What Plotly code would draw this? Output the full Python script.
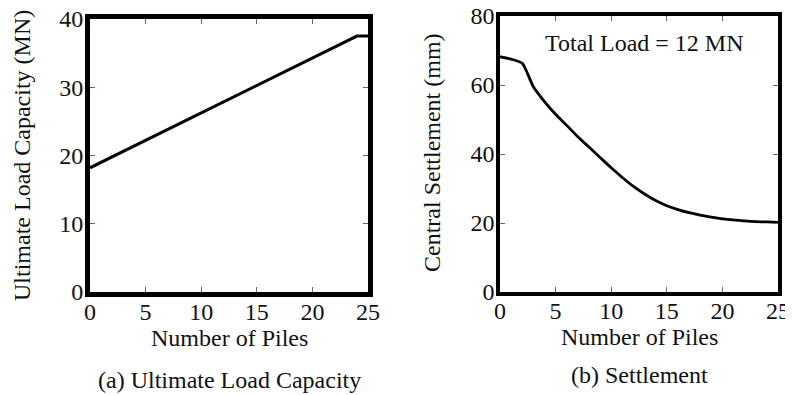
import plotly.graph_objects as go

# Panel (a): ultimate load capacity
piles_a = [0, 24, 25]
capacity_mn = [18.2, 37.5, 37.5]

# Panel (b): central settlement
piles_b = list(range(0, 26))
settlement_mm = [68.2, 67.5, 66.3, 59.5, 55.2, 51.5, 48.3, 45.0, 42.0, 39.0,
                 36.0, 33.2, 30.6, 28.4, 26.5, 25.0, 23.9, 23.0, 22.3, 21.7,
                 21.2, 20.9, 20.6, 20.4, 20.3, 20.2]

x_ticks = [0, 5, 10, 15, 20, 25]
y_ticks_a = [0, 10, 20, 30, 40]
y_ticks_b = [0, 20, 40, 60, 80]

FONT = "Liberation Serif, Times New Roman, serif"
FS = 24
OFF = 8  # page body margin
W, H = 793 - OFF, 395 - OFF

def px(x):
    return (x - OFF) / W

def py(y):
    return 1 - (y - OFF) / H

fig = go.Figure()
fig.add_trace(go.Scatter(x=piles_a, y=capacity_mn, mode="lines",
                         line=dict(color="black", width=3),
                         xaxis="x", yaxis="y", showlegend=False))
fig.add_trace(go.Scatter(x=piles_b, y=settlement_mm, mode="lines",
                         line=dict(color="black", width=2.8, shape="spline", smoothing=0.6),
                         xaxis="x2", yaxis="y2", showlegend=False))

def ax(domain, rng, ticks, lw, anchor, standoff=0):
    return dict(domain=domain, range=rng, tickvals=ticks, ticktext=[str(t) for t in ticks],
                showline=True, linecolor="black", linewidth=lw, mirror="ticks",
                ticks="inside", ticklen=5, tickwidth=1, tickcolor="#666",
                showgrid=False, zeroline=False, anchor=anchor, automargin=False,
                ticklabelstandoff=standoff, ticklabeloverflow="allow",
                tickfont=dict(family=FONT, size=FS, color="#111"))

fig.update_layout(
    width=W, height=H, margin=dict(l=0, r=0, t=0, b=0),
    paper_bgcolor="white", plot_bgcolor="white",
    xaxis=ax([px(90), px(368)], [0, 25], x_ticks, 5, "y", -6),
    yaxis=ax([py(292), py(19)], [0, 40], y_ticks_a, 5, "x", -3),
    xaxis2=ax([px(500), px(778)], [0, 25], x_ticks, 3.5, "y2", -6),
    yaxis2=ax([py(292), py(16)], [0, 80], y_ticks_b, 3.5, "x2", -3),
)

def ann(text, x, y, size=FS, angle=0):
    fig.add_annotation(text=text, x=px(x), y=py(y), xref="paper", yref="paper",
                       showarrow=False, textangle=angle, xanchor="center", yanchor="middle",
                       font=dict(family=FONT, size=size, color="#111"))

ann("Number of Piles", 229, 338)
ann("Number of Piles", 639, 337)
ann("(a) Ultimate Load Capacity", 229, 380)
ann("(b) Settlement", 639, 375)
ann("Ultimate Load Capacity (MN)", 22, 156, angle=-90)
ann("Central Settlement (mm)", 432, 153, angle=-90)
ann("Total Load = 12 MN", 644, 43)

fig.write_html("out.html")
